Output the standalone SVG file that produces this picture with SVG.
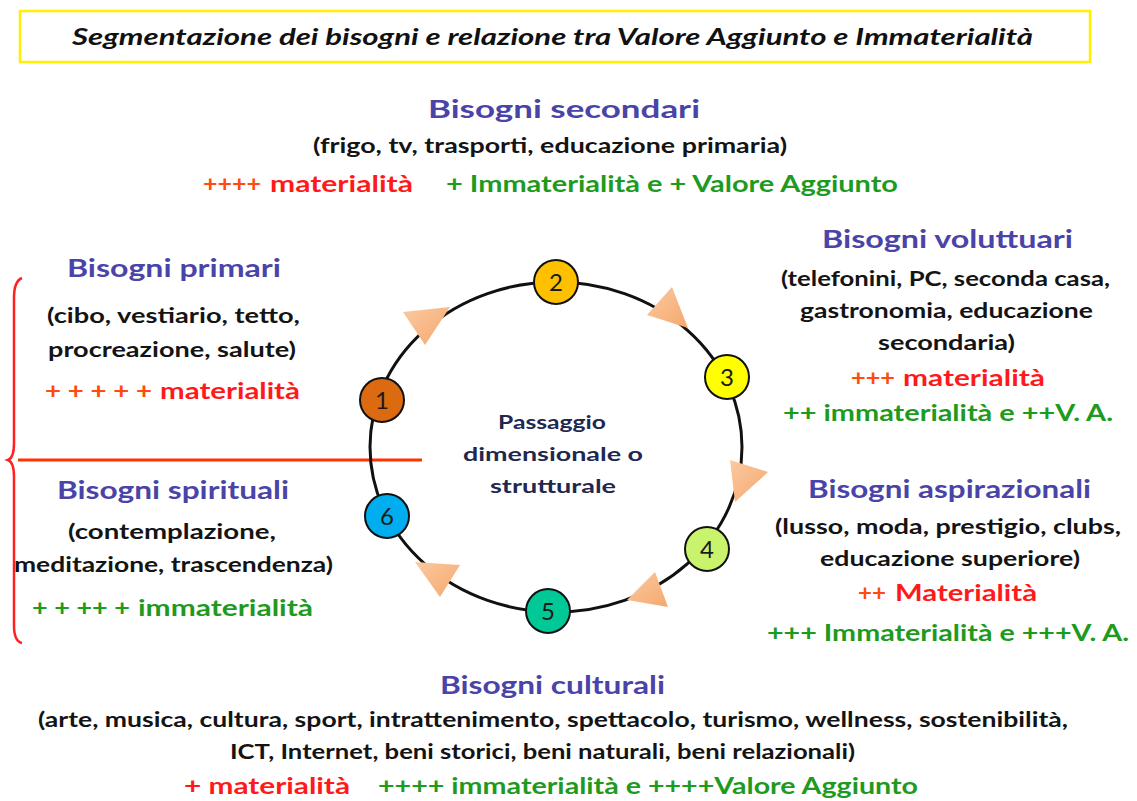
<svg xmlns="http://www.w3.org/2000/svg" width="1137" height="801" viewBox="0 0 1137 801">
<defs>
<linearGradient id="tri" x1="0" y1="0" x2="1" y2="1">
<stop offset="0" stop-color="#FBC9A0"/>
<stop offset="1" stop-color="#F5A86E"/>
</linearGradient>
<style>
text{font-family:Lato,"Open Sans","Liberation Sans",sans-serif;font-weight:bold}
.h{fill:#4A44A8;font-size:24px}
.b{fill:#141414;font-size:20px}
.r{fill:#FF1A1A;font-size:23px}
.o{fill:#FF4A10;font-size:23px}
.g{fill:#1E9A1E;font-size:23px}
.c{fill:#1F2850;font-size:19px}
.node circle{stroke:#111;stroke-width:2}
.node text{fill:#1a1a1a;font-size:24px;font-weight:normal}
.tri{fill:url(#tri);stroke:none}
</style>
</defs>
<rect width="1137" height="801" fill="#fff"/>
<g id="title">
<rect x="20" y="11" width="1070" height="51" fill="#fff" stroke="#FFF000" stroke-width="2.5"/>
<text x="72" y="45" font-size="22" font-style="italic" fill="#111" textLength="961" lengthAdjust="spacingAndGlyphs">Segmentazione dei bisogni e relazione tra Valore Aggiunto  e Immaterialità</text>
</g>
<g id="secondari">
<text class="h" x="428" y="118" textLength="272" lengthAdjust="spacingAndGlyphs">Bisogni  secondari</text>
<text class="b" x="313" y="153" textLength="474" lengthAdjust="spacingAndGlyphs">(frigo, tv, trasporti, educazione primaria)</text>
<text class="o" x="203" y="192" textLength="58" lengthAdjust="spacingAndGlyphs">++++</text>
<text class="r" x="270" y="192" textLength="143" lengthAdjust="spacingAndGlyphs">materialità</text>
<text class="g" x="446" y="192" textLength="452" lengthAdjust="spacingAndGlyphs">+ Immaterialità e + Valore Aggiunto</text>
</g>
<g id="voluttuari">
<text class="h" x="822" y="248" textLength="251" lengthAdjust="spacingAndGlyphs">Bisogni  voluttuari</text>
<text class="b" x="781" y="286" textLength="329" lengthAdjust="spacingAndGlyphs">(telefonini, PC, seconda casa,</text>
<text class="b" x="800" y="318" textLength="293" lengthAdjust="spacingAndGlyphs">gastronomia, educazione</text>
<text class="b" x="878" y="350" textLength="137" lengthAdjust="spacingAndGlyphs">secondaria)</text>
<text class="o" x="851" y="386" textLength="44" lengthAdjust="spacingAndGlyphs">+++</text>
<text class="r" x="903" y="386" textLength="142" lengthAdjust="spacingAndGlyphs">materialità</text>
<text class="g" x="783" y="421" textLength="330" lengthAdjust="spacingAndGlyphs">++ immaterialità e ++V. A.</text>
</g>
<g id="aspirazionali">
<text class="h" x="808" y="498" textLength="283" lengthAdjust="spacingAndGlyphs">Bisogni  aspirazionali</text>
<text class="b" x="775" y="534" textLength="346" lengthAdjust="spacingAndGlyphs">(lusso, moda, prestigio, clubs,</text>
<text class="b" x="820" y="566" textLength="260" lengthAdjust="spacingAndGlyphs">educazione superiore)</text>
<text class="o" x="858" y="601" textLength="28" lengthAdjust="spacingAndGlyphs">++</text>
<text class="r" x="895" y="601" textLength="142" lengthAdjust="spacingAndGlyphs">Materialità</text>
<text class="g" x="767" y="641" textLength="362" lengthAdjust="spacingAndGlyphs">+++ Immaterialità e +++V. A.</text>
</g>
<g id="primari">
<text class="h" x="67" y="277" textLength="214" lengthAdjust="spacingAndGlyphs">Bisogni  primari</text>
<text class="b" x="47" y="323" textLength="253" lengthAdjust="spacingAndGlyphs">(cibo, vestiario, tetto,</text>
<text class="b" x="48" y="357" textLength="248" lengthAdjust="spacingAndGlyphs">procreazione, salute)</text>
<text class="o" x="45" y="399" textLength="107" lengthAdjust="spacingAndGlyphs">+ + + + +</text>
<text class="r" x="160" y="399" textLength="140" lengthAdjust="spacingAndGlyphs">materialità</text>
</g>
<g id="spirituali">
<text class="h" x="57" y="499" textLength="232" lengthAdjust="spacingAndGlyphs">Bisogni  spirituali</text>
<text class="b" x="68" y="539" textLength="208" lengthAdjust="spacingAndGlyphs">(contemplazione,</text>
<text class="b" x="14" y="572" textLength="319" lengthAdjust="spacingAndGlyphs">meditazione, trascendenza)</text>
<text class="g" x="32" y="616" textLength="98" lengthAdjust="spacingAndGlyphs" fill="#148A14">+ + ++ +</text>
<text class="g" x="138" y="616" textLength="175" lengthAdjust="spacingAndGlyphs">immaterialità</text>
</g>
<g id="culturali">
<text class="h" x="440" y="694" textLength="225" lengthAdjust="spacingAndGlyphs">Bisogni  culturali</text>
<text class="b" x="38" y="727" textLength="1030" lengthAdjust="spacingAndGlyphs">(arte, musica, cultura, sport, intrattenimento, spettacolo, turismo, wellness, sostenibilità,</text>
<text class="b" x="230" y="759" textLength="625" lengthAdjust="spacingAndGlyphs">ICT, Internet,  beni storici, beni naturali, beni relazionali)</text>
<text class="r" x="184" y="794" textLength="166" lengthAdjust="spacingAndGlyphs">+ materialità</text>
<text class="g" x="378" y="794" textLength="540" lengthAdjust="spacingAndGlyphs">++++ immaterialità e ++++Valore Aggiunto</text>
</g>
<g id="divider">
<path d="M22 278 Q14 281 14 298 L14 443 Q14 458 8 460 Q14 462 14 477 L14 626 Q14 641 22 643" fill="none" stroke="#FF2020" stroke-width="2.5"/>
<line x1="18" y1="460" x2="422" y2="460" stroke="#FF3300" stroke-width="3"/>
</g>
<g id="connectors">
<ellipse cx="556" cy="447" rx="186" ry="165" fill="none" stroke="#111" stroke-width="3"/>
<polygon class="tri" points="403,312 450,307 425,345"/>
<polygon class="tri" points="647,315 672,287 688,328"/>
<polygon class="tri" points="730,460 768,472 735,502"/>
<polygon class="tri" points="627,600 655,572 668,607"/>
<polygon class="tri" points="415,562 460,565 440,597"/>
</g>
<g id="center">
<text class="c" x="498" y="429" textLength="108" lengthAdjust="spacingAndGlyphs">Passaggio</text>
<text class="c" x="463" y="461" textLength="180" lengthAdjust="spacingAndGlyphs">dimensionale o</text>
<text class="c" x="490" y="493" textLength="126" lengthAdjust="spacingAndGlyphs">strutturale</text>
</g>
<g id="node1" class="node"><circle cx="382" cy="400" r="22" fill="#DB6A10"/><text x="382" y="409" text-anchor="middle">1</text></g>
<g id="node2" class="node"><circle cx="556" cy="282" r="22" fill="#FFC000"/><text x="556" y="291" text-anchor="middle">2</text></g>
<g id="node3" class="node"><circle cx="727" cy="377" r="22" fill="#FFFF00"/><text x="727" y="386" text-anchor="middle">3</text></g>
<g id="node4" class="node"><circle cx="707" cy="549" r="22" fill="#C9F36C"/><text x="707" y="558" text-anchor="middle">4</text></g>
<g id="node5" class="node"><circle cx="548" cy="611" r="22" fill="#00C896"/><text x="548" y="620" text-anchor="middle">5</text></g>
<g id="node6" class="node"><circle cx="387" cy="516" r="22" fill="#00AEEF"/><text x="387" y="525" text-anchor="middle">6</text></g>
</svg>
